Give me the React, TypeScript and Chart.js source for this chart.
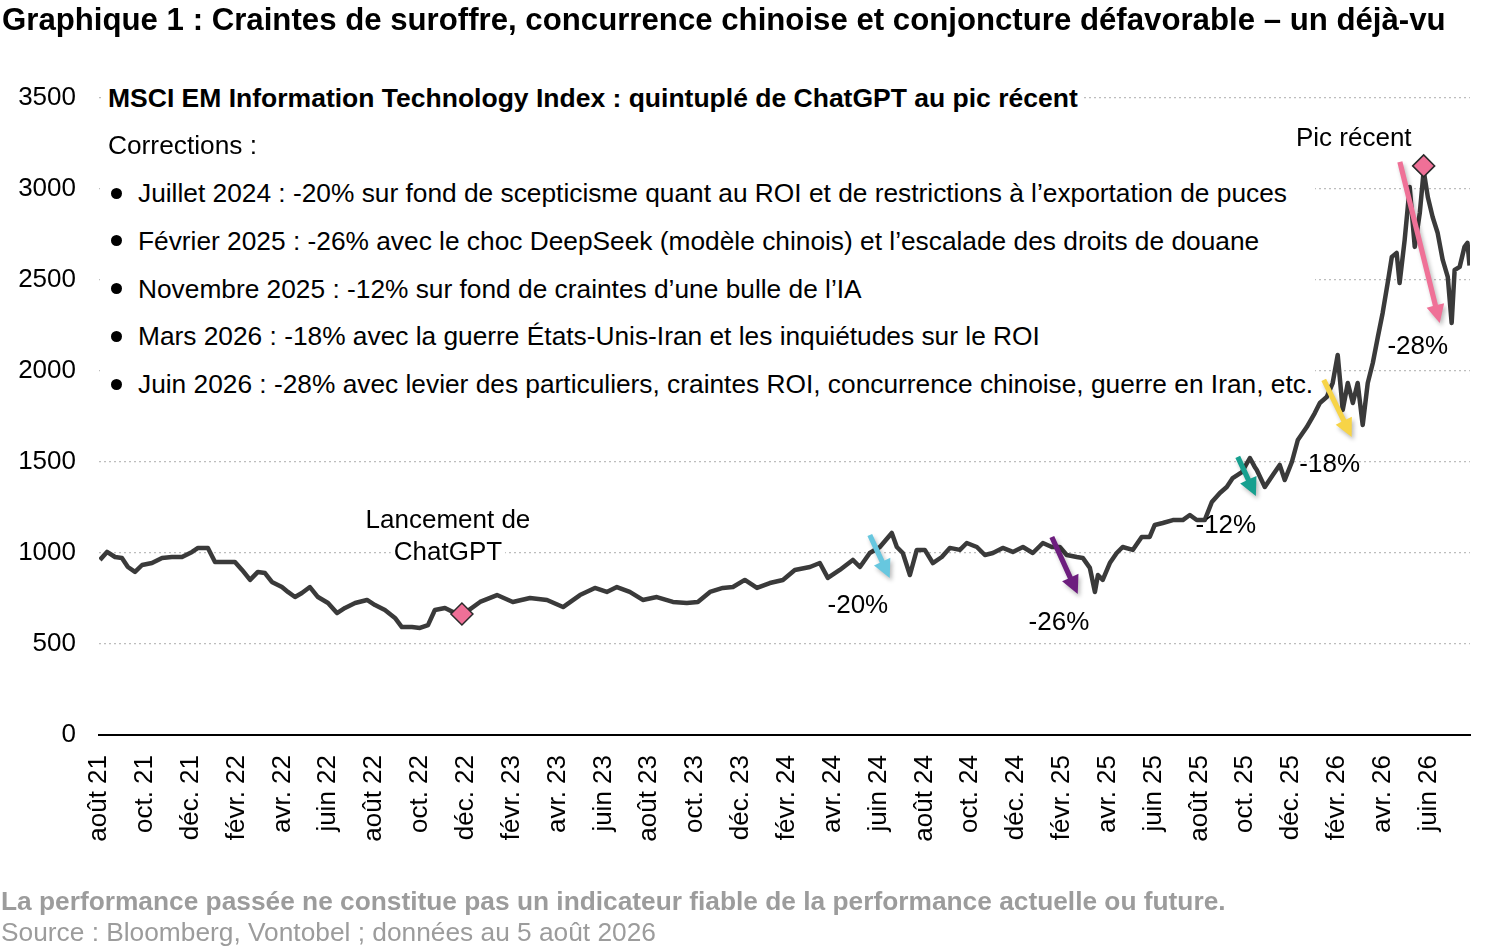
import React, { useEffect, useRef } from "react";
import { Chart, registerables } from "chart.js";

Chart.register(...registerables);

const FONT = '"Liberation Sans", Arial, Helvetica, sans-serif';

// ---- Data ----
const tickLabels = [
  "août 21", "oct. 21", "déc. 21", "févr. 22", "avr. 22", "juin 22", "août 22", "oct. 22", "déc. 22", "févr. 23",
  "avr. 23", "juin 23", "août 23", "oct. 23", "déc. 23", "févr. 24", "avr. 24", "juin 24", "août 24", "oct. 24",
  "déc. 24", "févr. 25", "avr. 25", "juin 25", "août 25", "oct. 25", "déc. 25", "févr. 26", "avr. 26", "juin 26",
];
// tick positions in months since 1 Aug 2021
const tickMonths = [0, 2, 4, 6, 8, 10, 12, 14, 16, 18, 20, 22, 24, 26, 28, 30, 32, 34, 36, 38, 40, 42, 44, 46, 48, 50, 52, 54, 56, 58];

// observation dates (months since 1 Aug 2021)
const months = [
  0.04, 0.35, 0.70, 1.00, 1.26, 1.57, 1.88, 2.31, 2.75, 3.18,
  3.62, 4.06, 4.32, 4.75, 5.06, 5.50, 5.93, 6.24, 6.59, 6.93,
  7.24, 7.54, 7.98, 8.24, 8.55, 8.85, 9.20, 9.55, 9.99, 10.38,
  10.73, 11.17, 11.69, 12.04, 12.47, 12.91, 13.21, 13.65, 14.00, 14.35,
  14.65, 15.09, 15.44, 15.83, 16.62, 17.36, 18.05, 18.80, 19.54, 20.24,
  20.98, 21.63, 22.15, 22.59, 23.15, 23.72, 24.33, 25.03, 25.64, 26.12,
  26.65, 27.21, 27.65, 28.17, 28.70, 29.26, 29.83, 30.35, 31.01, 31.44,
  31.79, 32.31, 32.88, 33.19, 33.62, 34.06, 34.58, 34.80, 35.06, 35.37,
  35.67, 36.02, 36.37, 36.76, 37.11, 37.55, 37.85, 38.29, 38.64, 38.99,
  39.42, 39.86, 40.30, 40.73, 41.17, 41.56, 41.91, 42.21, 42.65, 42.91,
  43.22, 43.44, 43.57, 43.78, 44.09, 44.39, 44.65, 45.09, 45.48, 45.83,
  46.05, 46.40, 46.84, 47.27, 47.58, 47.88, 48.23, 48.54, 48.89, 49.19,
  49.45, 49.85, 50.20, 50.41, 50.50, 50.85, 51.20, 51.50, 51.72, 52.03,
  52.29, 52.68, 53.03, 53.25, 53.55, 53.81, 54.03, 54.25, 54.47, 54.69,
  54.90, 55.12, 55.34, 55.56, 55.78, 55.99, 56.21, 56.39, 56.60, 56.73,
  56.95, 57.17, 57.39, 57.61, 57.78, 57.96, 58.17, 58.39, 58.61, 58.83,
  59.00, 59.13, 59.35, 59.56, 59.69, 59.78,
];

// MSCI EM Information Technology Index level
const indexValues = [
  962, 1006, 978, 973, 923, 896, 934, 945, 973, 978,
  978, 1006, 1028, 1028, 951, 951, 951, 907, 852, 896,
  890, 841, 813, 786, 758, 780, 813, 758, 725, 670,
  698, 725, 742, 714, 687, 643, 593, 593, 588, 604,
  687, 698, 676, 659, 731, 769, 731, 753, 742, 703,
  769, 808, 786, 813, 786, 742, 758, 731, 725, 731,
  786, 808, 813, 852, 808, 835, 852, 907, 923, 945,
  863, 907, 962, 923, 1000, 1033, 1110, 1033, 1000, 879,
  1017, 1017, 945, 978, 1028, 1017, 1055, 1033, 989, 1000,
  1028, 1006, 1033, 1000, 1055, 1033, 1033, 989, 978, 973,
  918, 786, 879, 852, 945, 1000, 1033, 1017, 1088, 1088,
  1154, 1165, 1181, 1181, 1209, 1181, 1181, 1280, 1330, 1363,
  1412, 1445, 1522, 1473, 1456, 1363, 1429, 1484, 1401, 1500,
  1621, 1692, 1769, 1824, 1857, 1934, 2088, 1786, 1934, 1824,
  1934, 1703, 1934, 2044, 2187, 2319, 2484, 2627, 2649, 2484,
  2720, 3011, 2682, 2868, 3100, 2956, 2846, 2758, 2610, 2517,
  2264, 2555, 2572, 2682, 2704, 2580,
];

// diamond markers: ChatGPT launch, recent peak
const markerMonths = [15.83, 57.78];
const markerValues = [665, 3127];

// correction arrows (start month/value -> end month/value)
const arrowStartMonths = [33.62, 41.56, 49.67, 53.42, 56.74];
const arrowStartValues = [1099, 1088, 1528, 1951, 3149];
const arrowEndMonths = [34.49, 42.69, 50.46, 54.64, 58.48];
const arrowEndValues = [863, 775, 1313, 1638, 2264];
const arrowColors = ["#67C7DF", "#6D1E7E", "#17A08F", "#F7D447", "#EF7197"];

// in-chart text labels anchored on data coordinates
const noteTexts = ["-20%", "-26%", "-12%", "-18%", "-28%", "Pic récent", "Lancement de", "ChatGPT"];
const noteMonths = [33.10, 41.87, 49.15, 53.68, 57.52, 54.73, 15.22, 15.22];
const noteValues = [709, 615, 1148, 1484, 2132, 3275, 1176, 1000];
const noteWhiteBg = [false, false, false, false, false, true, true, true];

const yTicks = [0, 500, 1000, 1500, 2000, 2500, 3000, 3500];

const titleText =
  "Graphique 1 : Craintes de suroffre, concurrence chinoise et conjoncture défavorable – un déjà-vu";
const subtitleText = "MSCI EM Information Technology Index : quintuplé de ChatGPT au pic récent";
const correctionsHeader = "Corrections :";
const correctionLines = [
  "Juillet 2024 : -20% sur fond de scepticisme quant au ROI et de restrictions à l’exportation de puces",
  "Février 2025 : -26% avec le choc DeepSeek (modèle chinois) et l’escalade des droits de douane",
  "Novembre 2025 : -12% sur fond de craintes d’une bulle de l’IA",
  "Mars 2026 : -18% avec la guerre États-Unis-Iran et les inquiétudes sur le ROI",
  "Juin 2026 : -28% avec levier des particuliers, craintes ROI, concurrence chinoise, guerre en Iran, etc.",
];
const footnote1 = "La performance passée ne constitue pas un indicateur fiable de la performance actuelle ou future.";
const footnote2 = "Source : Bloomberg, Vontobel ; données au 5 août 2026";

function drawArrow(ctx: CanvasRenderingContext2D, x0: number, y0: number, x1: number, y1: number, color: string) {
  const ang = Math.atan2(y1 - y0, x1 - x0);
  const len = Math.hypot(x1 - x0, y1 - y0);
  const head = 18;
  const hw = 9;
  const sw = 2.6;
  ctx.save();
  ctx.shadowColor = "rgba(0,0,0,0.28)";
  ctx.shadowBlur = 4;
  ctx.shadowOffsetX = 2;
  ctx.shadowOffsetY = 3;
  ctx.translate(x0, y0);
  ctx.rotate(ang);
  ctx.fillStyle = color;
  ctx.beginPath();
  ctx.moveTo(0, -sw);
  ctx.lineTo(len - head, -sw);
  ctx.lineTo(len - head, -hw);
  ctx.lineTo(len, 0);
  ctx.lineTo(len - head, hw);
  ctx.lineTo(len - head, sw);
  ctx.lineTo(0, sw);
  ctx.closePath();
  ctx.fill();
  ctx.restore();
}

const annotationPlugin = {
  id: "corrAnnotations",
  afterDatasetsDraw(chart: any) {
    const { ctx, scales } = chart;
    const xs = scales.x;
    const ys = scales.y;
    for (let i = 0; i < arrowColors.length; i++) {
      drawArrow(
        ctx,
        xs.getPixelForValue(arrowStartMonths[i]),
        ys.getPixelForValue(arrowStartValues[i]),
        xs.getPixelForValue(arrowEndMonths[i]),
        ys.getPixelForValue(arrowEndValues[i]),
        arrowColors[i]
      );
    }
    ctx.save();
    ctx.font = `26px ${FONT}`;
    ctx.textAlign = "center";
    ctx.textBaseline = "middle";
    for (let i = 0; i < noteTexts.length; i++) {
      const px = xs.getPixelForValue(noteMonths[i]);
      const py = ys.getPixelForValue(noteValues[i]);
      if (noteWhiteBg[i]) {
        const w = ctx.measureText(noteTexts[i]).width;
        ctx.fillStyle = "#ffffff";
        ctx.fillRect(px - w / 2 - 3, py - 14, w + 6, 28);
      }
      ctx.fillStyle = "#000000";
      ctx.fillText(noteTexts[i], px, py);
    }
    ctx.restore();
  },
};

export default function App() {
  const canvasRef = useRef<HTMLCanvasElement | null>(null);

  useEffect(() => {
    const canvas = canvasRef.current;
    if (!canvas) return;
    const chart = new Chart(canvas, {
      type: "line",
      data: {
        datasets: [
          {
            type: "scatter",
            data: markerMonths.map((m, i) => ({ x: m, y: markerValues[i] })),
            pointStyle: "rectRot",
            pointRadius: 11,
            backgroundColor: "#EF7097",
            borderColor: "#2a2a2a",
            borderWidth: 1.5,
            showLine: false,
          } as any,
          {
            data: months.map((m, i) => ({ x: m, y: indexValues[i] })),
            borderColor: "#3a3a3a",
            borderWidth: 4.5,
            pointRadius: 0,
            tension: 0,
            borderJoinStyle: "round",
            fill: false,
          } as any,
        ],
      },
      options: {
        responsive: false,
        animation: false,
        events: [],
        layout: { padding: { left: 0, right: 30, top: 98, bottom: 0 } },
        plugins: {
          legend: { display: false },
          tooltip: { enabled: false },
          title: { display: false },
        },
        scales: {
          x: {
            type: "linear",
            min: 0,
            max: 59.8,
            grid: { display: false, drawTicks: false },
            border: { display: true, color: "#000000", width: 2 },
            ticks: {
              autoSkip: false,
              maxRotation: 90,
              minRotation: 90,
              padding: 20,
              color: "#000000",
              font: { family: FONT, size: 26 },
              callback: (_v: any, i: number) => tickLabels[i],
            },
            afterBuildTicks: (axis: any) => {
              axis.ticks = tickMonths.map((v) => ({ value: v }));
            },
            afterFit: (scale: any) => {
              scale.height = 212;
            },
          },
          y: {
            min: 0,
            max: 3500,
            grid: { color: "#bdbdbd", lineWidth: 1.2, drawTicks: false },
            border: { display: false, dash: [2, 3] },
            ticks: {
              padding: 23,
              color: "#000000",
              font: { family: FONT, size: 26 },
              callback: (v: any) => String(v),
            },
            afterBuildTicks: (axis: any) => {
              axis.ticks = yTicks.map((v) => ({ value: v }));
            },
            afterFit: (scale: any) => {
              scale.width = 99;
            },
          },
        } as any,
      },
      plugins: [annotationPlugin],
    });
    return () => chart.destroy();
  }, []);

  const lineTop = (cy: number, lh: number) => cy - lh / 2;

  return (
    <div
      style={{
        position: "absolute",
        left: 0,
        top: 0,
        width: 1500,
        height: 947,
        background: "#ffffff",
        overflow: "hidden",
        fontFamily: FONT,
        color: "#000",
      }}
    >
      <canvas ref={canvasRef} width={1500} height={947} style={{ position: "absolute", left: 0, top: 0 }} />
      <div
        style={{
          position: "absolute",
          left: 2,
          top: lineTop(20, 36),
          height: 36,
          lineHeight: "36px",
          fontSize: 31.2,
          fontWeight: "bold",
          whiteSpace: "nowrap",
        }}
      >
        {titleText}
      </div>
      <div
        style={{
          position: "absolute",
          left: 103,
          top: lineTop(98, 30),
          height: 30,
          lineHeight: "30px",
          fontSize: 26.5,
          fontWeight: "bold",
          whiteSpace: "nowrap",
          background: "#fff",
          padding: "0 5px",
        }}
      >
        {subtitleText}
      </div>
      <div
        style={{
          position: "absolute",
          left: 108,
          top: lineTop(145, 30),
          lineHeight: "30px",
          fontSize: 26.3,
          whiteSpace: "nowrap",
        }}
      >
        {correctionsHeader}
      </div>
      <div
        style={{
          position: "absolute",
          left: 100,
          top: 168,
          width: 1215,
          height: 236,
          background: "#fff",
          fontSize: 26.3,
        }}
      >
        {correctionLines.map((t, i) => {
          const cy = 193 + i * 47.8;
          return (
            <React.Fragment key={i}>
              <div
                style={{
                  position: "absolute",
                  left: 116 - 100 - 5.5,
                  top: cy - 168 - 5.5,
                  width: 11,
                  height: 11,
                  borderRadius: "50%",
                  background: "#000",
                }}
              />
              <div
                style={{
                  position: "absolute",
                  left: 38,
                  top: lineTop(cy, 30) - 168,
                  lineHeight: "30px",
                  whiteSpace: "nowrap",
                }}
              >
                {t}
              </div>
            </React.Fragment>
          );
        })}
      </div>
      <div
        style={{
          position: "absolute",
          left: 1,
          top: lineTop(901, 30),
          lineHeight: "30px",
          fontSize: 26.3,
          fontWeight: "bold",
          color: "#9c9c9c",
          whiteSpace: "nowrap",
        }}
      >
        {footnote1}
      </div>
      <div
        style={{
          position: "absolute",
          left: 1,
          top: lineTop(932, 30),
          lineHeight: "30px",
          fontSize: 26.3,
          color: "#9c9c9c",
          whiteSpace: "nowrap",
        }}
      >
        {footnote2}
      </div>
    </div>
  );
}
